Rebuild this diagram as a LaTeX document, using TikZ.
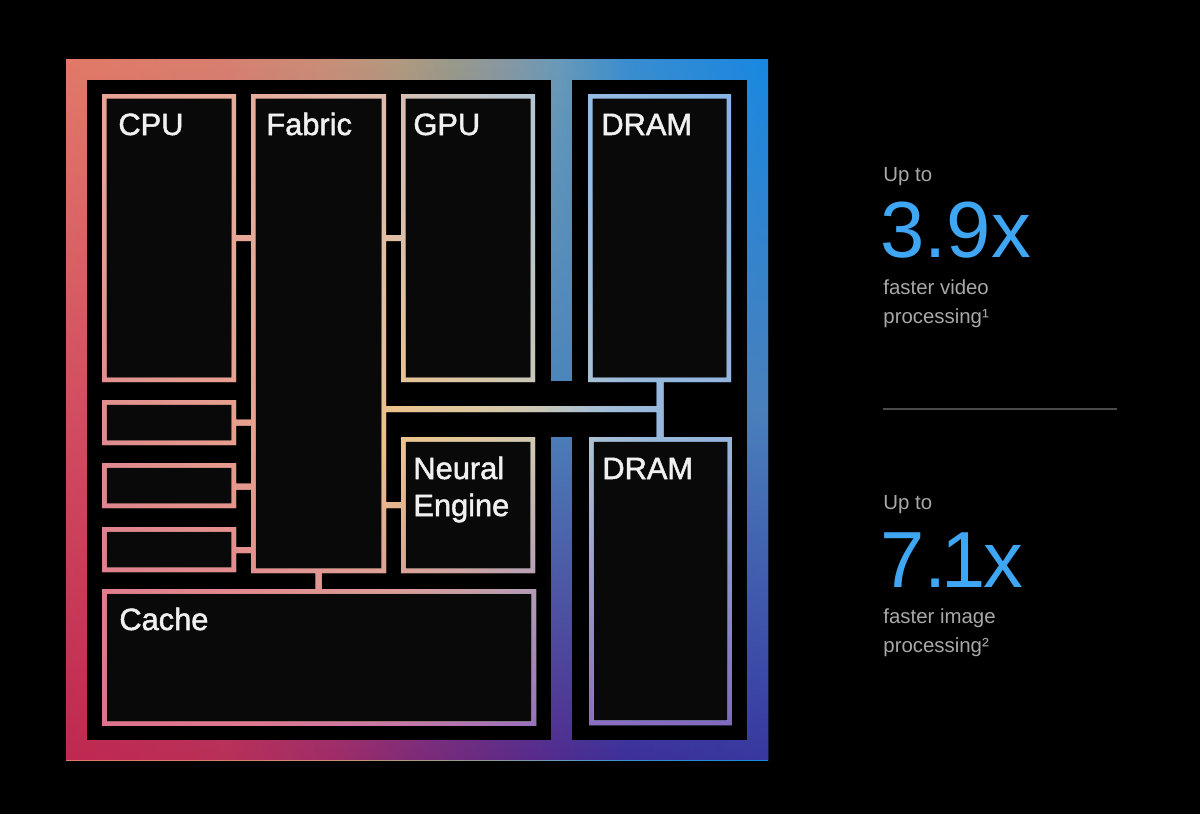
\documentclass[tikz,border=0pt]{standalone}
\usepackage{fontspec}
\setmainfont{Liberation Sans}
\usetikzlibrary{fadings,fit}

\definecolor{numblue}{HTML}{3FA6F3}
\definecolor{captgrey}{HTML}{A8A8A8}
\definecolor{rulegrey}{HTML}{4A4A4A}
\definecolor{lblwhite}{HTML}{F0F0F0}
\definecolor{boxfill}{HTML}{090909}

% outer frame colours
\definecolor{ot0}{HTML}{E27A68}\definecolor{ot1}{HTML}{D88070}\definecolor{ot2}{HTML}{C89078}
\definecolor{ot3}{HTML}{B09A80}\definecolor{ot4}{HTML}{9A9A8A}\definecolor{ot5}{HTML}{8A98A0}
\definecolor{ot6}{HTML}{6A9AB8}\definecolor{ot7}{HTML}{3A8ED0}\definecolor{ot8}{HTML}{1888E2}
\definecolor{om0}{HTML}{D44E60}\definecolor{om1}{HTML}{B85070}\definecolor{om2}{HTML}{7A6898}
\definecolor{om3}{HTML}{4A84BC}\definecolor{om4}{HTML}{4A80BC}
\definecolor{ob0}{HTML}{C02850}\definecolor{ob1}{HTML}{B83058}\definecolor{ob2}{HTML}{A02C68}
\definecolor{ob3}{HTML}{7A2A7A}\definecolor{ob4}{HTML}{5A2A8A}\definecolor{ob5}{HTML}{3C309A}
\definecolor{ob6}{HTML}{3838A0}
% inner outline colours
\definecolor{it0}{HTML}{E8A494}\definecolor{it1}{HTML}{E8AC9C}\definecolor{it2}{HTML}{DDBCAC}
\definecolor{it3}{HTML}{C8C4C0}\definecolor{it4}{HTML}{B4C6D2}\definecolor{it5}{HTML}{96BCE2}
\definecolor{it6}{HTML}{86B4E4}
\definecolor{im0}{HTML}{E08A8E}\definecolor{im1}{HTML}{E8A08C}\definecolor{im2}{HTML}{EEC488}
\definecolor{im3}{HTML}{E4C898}\definecolor{im4}{HTML}{D0C8B0}\definecolor{im5}{HTML}{A8C0D4}
\definecolor{im6}{HTML}{98B8DC}\definecolor{im7}{HTML}{98B4DC}
\definecolor{ib0}{HTML}{E0728E}\definecolor{ib1}{HTML}{E07894}\definecolor{ib2}{HTML}{C878A8}
\definecolor{ib3}{HTML}{9870C0}\definecolor{ib4}{HTML}{8C6CC4}\definecolor{ib5}{HTML}{8068C0}

\pgfdeclarehorizontalshading{outertop}{100bp}{color(0bp)=(ot0); color(25bp)=(ot0);
 color(36.5bp)=(ot1); color(44bp)=(ot2); color(49bp)=(ot3); color(52.5bp)=(ot4);
 color(56bp)=(ot5); color(60bp)=(ot6); color(65bp)=(ot7); color(75bp)=(ot8); color(100bp)=(ot8)}
\pgfdeclarehorizontalshading{outermid}{100bp}{color(0bp)=(om0); color(25bp)=(om0);
 color(36.5bp)=(om1); color(50bp)=(om2); color(60bp)=(om3); color(75bp)=(om4); color(100bp)=(om4)}
\pgfdeclarehorizontalshading{outerbot}{100bp}{color(0bp)=(ob0); color(25bp)=(ob0);
 color(36.5bp)=(ob1); color(44bp)=(ob2); color(51bp)=(ob3); color(58bp)=(ob4);
 color(65bp)=(ob5); color(75bp)=(ob6); color(100bp)=(ob6)}
\pgfdeclarehorizontalshading{innertop}{100bp}{color(0bp)=(it0); color(25bp)=(it0);
 color(36.75bp)=(it1); color(47.5bp)=(it2); color(52.5bp)=(it3); color(59bp)=(it4);
 color(63.5bp)=(it5); color(75bp)=(it6); color(100bp)=(it6)}
\pgfdeclarehorizontalshading{innermid}{100bp}{color(0bp)=(im0); color(25bp)=(im0);
 color(36.75bp)=(im1); color(48bp)=(im2); color(54bp)=(im3); color(59.5bp)=(im4);
 color(64.5bp)=(im5); color(69bp)=(im6); color(75bp)=(im7); color(100bp)=(im7)}
\pgfdeclarehorizontalshading{innerbot}{100bp}{color(0bp)=(ib0); color(25bp)=(ib0);
 color(36.75bp)=(ib1); color(48.5bp)=(ib2); color(59.5bp)=(ib3); color(63.5bp)=(ib4);
 color(75bp)=(ib5); color(100bp)=(ib5)}

% middle color must come last (top/bottom color reset it)
\tikzfading[name=fadetomid, top color=transparent!100, bottom color=transparent!0, middle color=transparent!0]
\tikzfading[name=fadetobot, top color=transparent!100, bottom color=transparent!0, middle color=transparent!100]

\def\bw{4.5}

\begin{document}
\begin{tikzpicture}[x=0.5pt,y=-0.5pt,
  area/.style={inner sep=0pt, outer sep=0pt, draw=none},
  lbl/.style={text=lblwhite, font=\fontsize{15.4}{18}\selectfont\addfontfeature{FakeBold=1.6}, inner sep=0pt, anchor=base west},
  capt/.style={text=captgrey, font=\fontsize{10.2}{12}\selectfont, inner sep=0pt, anchor=base west},
  bignum/.style={text=numblue, font=\fontsize{39.8}{44}\selectfont, inner sep=0pt, anchor=base west}]

\fill[black] (0,0) rectangle (1200,814);
\useasboundingbox (0,0) rectangle (1200,814);

% named regions
\node[area, fit={(66,59)(768,760)}] (chip) {};
\node[area, fit={(102,94)(236,382)}] (cpu) {};
\node[area, fit={(251,94)(386,573)}] (fabric) {};
\node[area, fit={(401,94)(535,382)}] (gpu) {};
\node[area, fit={(588,94)(731,382)}] (drama) {};
\node[area, fit={(102,400)(236,445)}] (s1) {};
\node[area, fit={(102,463)(236,508)}] (s2) {};
\node[area, fit={(102,527)(236,572)}] (s3) {};
\node[area, fit={(401,437)(535,573)}] (neural) {};
\node[area, fit={(102,589)(536,726)}] (cache) {};
\node[area, fit={(589,437)(732,725)}] (dramb) {};

\coordinate (busend) at ([xshift=-1.5pt]drama.south);
\coordinate (fbl) at ([xshift=-1.5pt]fabric.south);
\coordinate (fbr) at ([xshift=1.5pt]fabric.south);

% outer gradient frame
\shade[shading=outertop] (chip.north west) rectangle (chip.south east);
\shade[shading=outermid, path fading=fadetomid] (chip.north west) rectangle (chip.south east);
\shade[shading=outerbot, path fading=fadetobot] (chip.north west) rectangle (chip.south east);
\fill[black] (87,80) rectangle (551,740);
\fill[black] (572,80) rectangle (747,740);
\fill[black] (551,381) rectangle (572,437);

% box interiors
\foreach \b in {cpu,fabric,gpu,drama,s1,s2,s3,neural,cache,dramb}
  \fill[boxfill] (\b.north west) rectangle (\b.south east);

% outlines and links with gradient
\begin{scope}[even odd rule]
\clip
  \foreach \b in {cpu,fabric,gpu,drama,s1,s2,s3,neural,cache,dramb}
    {(\b.north west) rectangle (\b.south east)
     ([shift={(\bw,\bw)}]\b.north west) rectangle ([shift={(-\bw,-\bw)}]\b.south east)}
  (cpu.east |- 0,235) rectangle (fabric.west |- 0,241)
  (fabric.east |- 0,235) rectangle (gpu.west |- 0,241)
  (s1.east |- 0,419.5) rectangle (fabric.west |- 0,425.5)
  (s2.east |- 0,483.5) rectangle (fabric.west |- 0,489.5)
  (s3.east |- 0,547) rectangle (fabric.west |- 0,553)
  (fabric.east |- 0,502) rectangle (neural.west |- 0,508)
  (fabric.east |- 0,406) rectangle (busend |- 0,412)
  (busend) rectangle ([xshift=1.5pt]dramb.north)
  (fbl) rectangle (fbr |- cache.north);
\shade[shading=innertop] (cpu.north west) rectangle (dramb.south east);
\shade[shading=innermid, path fading=fadetomid] (102,174) rectangle (732,726);
\shade[shading=innerbot, path fading=fadetobot] (102,174) rectangle (732,726);
\end{scope}

% box labels
\node[lbl] (cpulbl) at (118,135) {CPU};
\node[lbl] (fablbl) at (266,135) {Fabric};
\node[lbl] (gpulbl) at (413,135) {GPU};
\node[lbl] (dramalbl) at (601,135) {DRAM};
\node[lbl] (neurlbl) at (413,479) {Neural};
\node[lbl] (englbl) at (413,516) {Engine};
\node[lbl] (dramblbl) at (602,479) {DRAM};
\node[lbl] (cachelbl) at (119,630) {Cache};

% right-hand figures
\node[capt] (upa) at (883,181) {Up to};
\node[bignum] (numa) at (880,257) {3.9x};
\node[capt] (capa1) at (883,294) {faster video};
\node[capt] (capa2) at (883,323) {processing¹};
\coordinate (rulel) at (883,409);
\coordinate (ruler) at (1117,409);
\draw[rulegrey, line width=0.75pt] (rulel) -- (ruler);
\node[capt] (upb) at (883,509) {Up to};
\node[bignum] (numb) at (880,587) {7.\kern-0.07em1\kern-0.03em x};
\node[capt] (capb1) at (883,623) {faster image};
\node[capt] (capb2) at (883,652) {processing²};
\end{tikzpicture}
\end{document}
